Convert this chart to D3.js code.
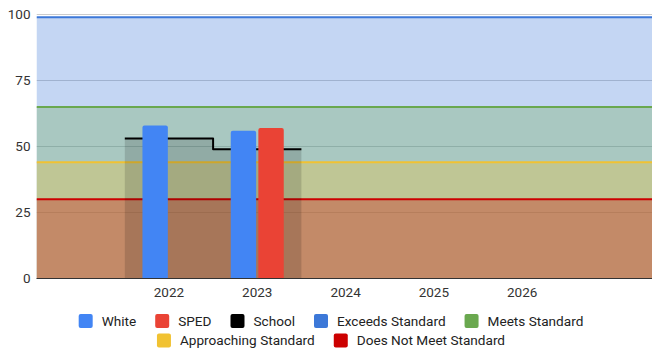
<!DOCTYPE html>
<html>
<head>
<meta charset="utf-8">
<script src="https://cdn.jsdelivr.net/npm/d3@7"></script>
<style>
  html, body { margin: 0; padding: 0; background: #fff; }
  svg { display: block; font-family: Roboto, "Noto Sans", sans-serif; }
</style>
</head>
<body>
<svg id="chart" width="652" height="350"></svg>
<script>
// Category slots along the x axis (blank slots pad both ends)
const slots = ["", "2022", "2023", "2024", "2025", "2026", ""];
const yTicks = [0, 25, 50, 75, 100];

// Student group results (columns)
const white = [null, 58, 56, null, null, null, null];
const sped  = [null, null, 57, null, null, null, null];
// School-wide result (stepped area)
const school = [null, 53, 49, null, null, null, null];

// Performance level cut lines (shaded areas)
const exceeds     = [99, 99, 99, 99, 99, 99, 99];
const meets       = [65, 65, 65, 65, 65, 65, 65];
const approaching = [44, 44, 44, 44, 44, 44, 44];
const doesNotMeet = [30, 30, 30, 30, 30, 30, 30];

const barSeries = [
  { name: "White", values: white, color: "#4285f4" },
  { name: "SPED",  values: sped,  color: "#ea4335" }
];
const bands = [
  { name: "Exceeds Standard",       values: exceeds,     color: "#3c78d8" },
  { name: "Meets Standard",         values: meets,       color: "#6aa84f" },
  { name: "Approaching Standard",   values: approaching, color: "#f1c232" },
  { name: "Does Not Meet Standard", values: doesNotMeet, color: "#cc0000" }
];

const svg = d3.select("#chart");
const plotLeft = 36.5, plotRight = 654.6, plotTop = 14.5, plotBottom = 278.5;

const x = d3.scaleBand().domain(d3.range(slots.length)).range([plotLeft, plotRight]).padding(0);
const y = d3.scaleLinear().domain([0, 100]).range([plotBottom, plotTop]);
const xInner = d3.scaleBand().domain(barSeries.map(s => s.name)).range([-26.5, 26.5]).paddingInner(0.08);

svg.append("clipPath").attr("id", "plot")
  .append("rect").attr("x", plotLeft).attr("y", 0).attr("width", 652 - plotLeft).attr("height", plotBottom + 1);

const plot = svg.append("g").attr("clip-path", "url(#plot)");

// Gridlines
plot.append("g").selectAll("line").data(yTicks.filter(t => t > 0)).join("line")
  .attr("x1", plotLeft).attr("x2", plotRight)
  .attr("y1", d => y(d)).attr("y2", d => y(d))
  .attr("stroke", "#cccccc").attr("stroke-width", 1);

// Stepped point list across whole slots for a series
function steps(values) {
  const pts = [];
  values.forEach((v, i) => {
    if (v == null) return;
    pts.push([x(i), v], [x(i) + x.bandwidth(), v]);
  });
  return pts;
}

const area = d3.area().x(d => d[0]).y0(y(0)).y1(d => y(d[1]));
const line = d3.line().x(d => d[0]).y(d => y(d[1]));

// Performance level areas
plot.append("g").selectAll("path").data(bands).join("path")
  .attr("d", d => area(steps(d.values)))
  .attr("fill", d => d.color).attr("fill-opacity", 0.3);

// Performance level lines
plot.append("g").selectAll("path").data(bands).join("path")
  .attr("d", d => line(steps(d.values)))
  .attr("fill", "none").attr("stroke", d => d.color).attr("stroke-width", 2);

// School stepped area and line
const schoolPts = steps(school);
plot.append("path").attr("d", area(schoolPts))
  .attr("fill", "#000").attr("fill-opacity", 0.14);
plot.append("path").attr("d", line(schoolPts))
  .attr("fill", "none").attr("stroke", "#000").attr("stroke-width", 2)
  .attr("stroke-linejoin", "round");

// Columns with lightly rounded tops
function barPath(x0, w, y0, y1, r) {
  r = Math.min(r, w / 2, y0 - y1);
  return `M${x0},${y0}V${y1 + r}Q${x0},${y1} ${x0 + r},${y1}H${x0 + w - r}Q${x0 + w},${y1} ${x0 + w},${y1 + r}V${y0}Z`;
}
barSeries.forEach(s => {
  plot.append("g").selectAll("path")
    .data(s.values.map((v, i) => ({ v, i })).filter(d => d.v != null))
    .join("path")
    .attr("d", d => barPath(x(d.i) + x.bandwidth() / 2 + xInner(s.name), xInner.bandwidth(), y(0), y(d.v), 2))
    .attr("fill", s.color);
});

// Axes
const yAxis = svg.append("g").attr("transform", `translate(${plotLeft},0)`)
  .call(d3.axisLeft(y).tickValues(yTicks).tickSize(0).tickPadding(6));
yAxis.select(".domain").remove();
yAxis.selectAll("text").attr("font-size", 13.5).attr("fill", "#333").attr("font-family", "Roboto");

const xAxis = svg.append("g").attr("transform", `translate(0,${plotBottom})`)
  .call(d3.axisBottom(x).tickFormat(i => slots[i]).tickSize(0).tickPadding(8.6));
xAxis.select(".domain").remove();
xAxis.selectAll("text").attr("font-size", 13.5).attr("fill", "#333").attr("font-family", "Roboto");

svg.append("line").attr("x1", plotLeft).attr("x2", 652).attr("y1", plotBottom).attr("y2", plotBottom)
  .attr("stroke", "#333").attr("stroke-width", 1);

// Legend
const legendRows = [
  [
    { name: "White", color: "#4285f4" },
    { name: "SPED", color: "#ea4335" },
    { name: "School", color: "#000000" },
    { name: "Exceeds Standard", color: "#3c78d8" },
    { name: "Meets Standard", color: "#6aa84f" }
  ],
  [
    { name: "Approaching Standard", color: "#f1c232" },
    { name: "Does Not Meet Standard", color: "#cc0000" }
  ]
];
const sw = 14, swGap = 9, itemGap = 19, legendCenter = 331;
legendRows.forEach((row, r) => {
  const g = svg.append("g");
  const rowY = 314 + r * 19.5;
  let cx = 0;
  row.forEach(item => {
    const it = g.append("g").attr("transform", `translate(${cx},0)`);
    it.append("rect").attr("x", 0).attr("y", rowY).attr("width", sw).attr("height", sw)
      .attr("rx", 2).attr("fill", item.color);
    const t = it.append("text").attr("x", sw + swGap).attr("y", rowY + 11.8)
      .attr("font-size", 13.6).attr("fill", "#222").attr("font-family", "Roboto").text(item.name);
    cx += sw + swGap + t.node().getComputedTextLength() + itemGap;
  });
  const total = cx - itemGap;
  g.attr("transform", `translate(${legendCenter - total / 2},0)`);
});
</script>
</body>
</html>
